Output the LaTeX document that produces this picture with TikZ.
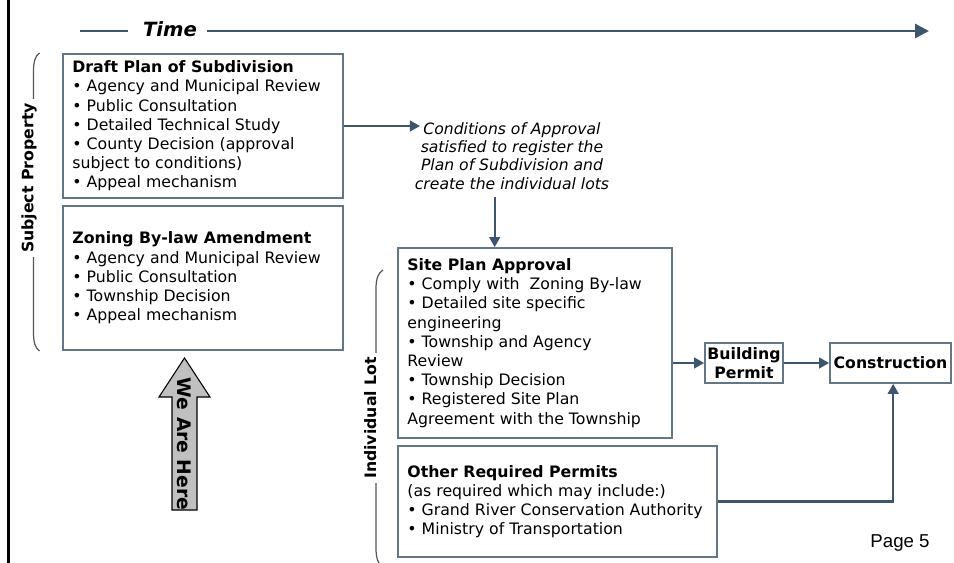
\documentclass[tikz,border=0pt]{standalone}
\usepackage{fontspec}
\setmainfont{DejaVu Sans}
\newfontfamily\pagefont{Liberation Sans}
\usetikzlibrary{arrows.meta}
\definecolor{framegray}{RGB}{100,118,134}
\definecolor{flowblue}{RGB}{62,86,108}
\definecolor{bracegray}{RGB}{85,85,85}
\definecolor{heregray}{RGB}{192,192,192}

\begin{document}
\begin{tikzpicture}[x=0.75pt,y=-0.75pt,
  box/.style={draw=framegray, line width=1.3pt, rectangle, inner sep=0pt},
  boxtext/.style={inner sep=0pt, align=left, font=\fontsize{11.8}{14.4}\selectfont},
  conn/.style={draw=flowblue, line width=1.6pt, -{Triangle[length=7.5pt,width=8pt]}},
  timeline/.style={draw=flowblue, line width=2.2pt},
  brace/.style={draw=bracegray, line width=0.9pt},
  sidelabel/.style={rotate=90, anchor=base, fill=white, inner xsep=3pt, inner ysep=1pt,
    font=\bfseries\fontsize{11.8}{14}\selectfont}]

\useasboundingbox (0,0) rectangle (954,563);
\fill[white] (0,0) rectangle (954,563);

% margin rule on the left edge
\draw[line width=2.8pt] (8.6,-2) -- (8.6,566);

% time axis
\node[font=\bfseries\itshape\fontsize{14.7}{16}\selectfont, inner xsep=7pt] (time) at (170,29) {Time};
\coordinate (tstart) at (80,31);
\coordinate (tend) at (929,31);
\draw[timeline] (tstart) -- ([xshift=-4pt]tstart -| time.west);
\draw[timeline, -{Triangle[length=10.5pt,width=10.5pt]}] (time.east |- tend) -- (tend);

% subject property applications
\node[box, minimum width=210pt, minimum height=108pt] (draft) at (203,126) {};
\node[boxtext, anchor=west] (draftT) at ([xshift=7.5pt]draft.west)
  {\textbf{Draft Plan of Subdivision}\\• Agency and Municipal Review\\• Public Consultation\\• Detailed Technical Study\\• County Decision (approval\\subject to conditions)\\• Appeal mechanism};

\node[box, minimum width=210pt, minimum height=108pt] (zoning) at (203,278) {};
\node[boxtext, anchor=west] (zoningT) at ([xshift=7.5pt]zoning.west)
  {\textbf{Zoning By-law Amendment}\\• Agency and Municipal Review\\• Public Consultation\\• Township Decision\\• Appeal mechanism};

% individual lot approvals
\node[box, minimum width=205.5pt, minimum height=142.5pt] (siteplan) at (535,343) {};
\node[boxtext, anchor=west] (siteplanT) at ([xshift=7.5pt]siteplan.west)
  {\textbf{Site Plan Approval}\\• Comply with\ \ Zoning By-law\\• Detailed site specific\\engineering\\• Township and Agency\\Review\\• Township Decision\\• Registered Site Plan\\Agreement with the Township};

\node[box, minimum width=239.25pt, minimum height=83.25pt] (other) at (557.5,501.5) {};
\node[boxtext, anchor=west] (otherT) at ([xshift=7.5pt]other.west)
  {\textbf{Other Required Permits}\\(as required which may include:)\\• Grand River Conservation Authority\\• Ministry of Transportation};

\node[box, minimum width=58.5pt, minimum height=30pt, align=center,
  font=\bfseries\fontsize{11.8}{14.4}\selectfont] (building) at (744,363) {Building\\Permit};
\node[box, minimum width=90.75pt, minimum height=30pt,
  font=\bfseries\fontsize{11.8}{14.4}\selectfont] (construction) at (890.5,363) {Construction};

% registration step
\node[font=\itshape\fontsize{11.7}{13.7}\selectfont, align=center, inner sep=2pt] (cond) at (512,156)
  {Conditions of Approval\\satisfied to register the\\Plan of Subdivision and\\create the individual lots};

% flow connectors
\draw[conn] (draft.east) -- ([xshift=6pt]draft.east -| cond.west);
\coordinate (drop) at ([xshift=-13pt,yshift=-3.5pt]cond.south);
\draw[conn] (drop) -- (drop |- siteplan.north);
\draw[conn] (building.west -| siteplan.east) -- (building.west);
\draw[conn] (building.east) -- (construction.west);
\draw[conn] (other.east) -| ([xshift=2pt]construction.south);

% grouping brackets
\draw[brace] (39.5,53) .. controls (35,56) and (33.5,62) .. (33.5,72) -- (33.5,332) .. controls (33.5,342) and (35,348) .. (39.5,351);
\node[sidelabel] (subj) at (33.5,178) {Subject Property};
\draw[brace] (383,270) .. controls (378,273) and (376,279) .. (376,289) -- (376,548) .. controls (376,558) and (378,564) .. (383,568);
\node[sidelabel] (lot) at (376,418) {Individual Lot};

% current stage marker
\draw[fill=heregray, draw=black, line width=0.8pt] (172,510) -- (172,397) -- (159,397) -- (184.5,358) -- (210,397) -- (197,397) -- (197,510) -- cycle;
\node[rotate=-90, font=\bfseries\fontsize{14}{16}\selectfont, inner sep=0pt] (here) at (184.5,444) {We Are Here};

% page number
\node[font=\pagefont\fontsize{14}{16}\selectfont] (page) at (900,543) {Page 5};
\end{tikzpicture}
\end{document}
